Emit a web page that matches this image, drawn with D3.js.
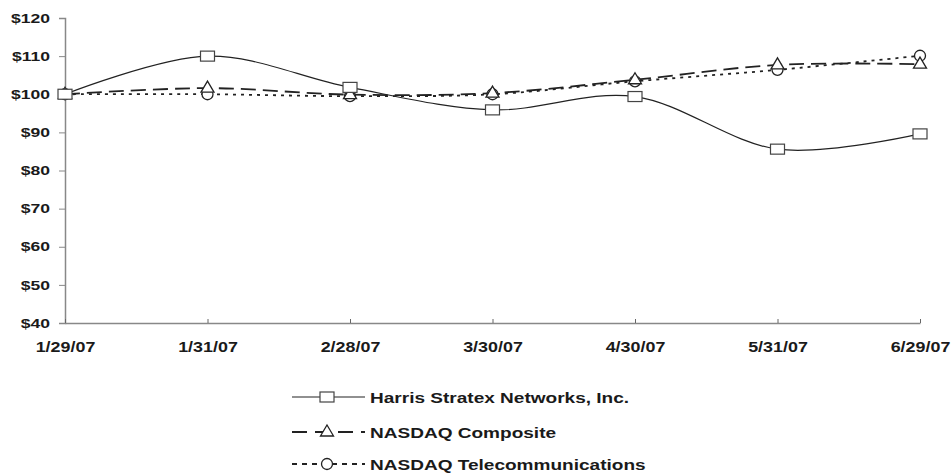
<!DOCTYPE html>
<html><head><meta charset="utf-8">
<script src="https://cdn.jsdelivr.net/npm/d3@7"></script>
<style>body{margin:0;background:#fff}svg{display:block}text{font-family:"Liberation Sans",Arial,sans-serif;font-weight:bold;fill:#1a1a1a}</style>
</head><body><svg id="c" width="951" height="474"></svg>
<script>
const dates = ["1/29/07","1/31/07","2/28/07","3/30/07","4/30/07","5/31/07","6/29/07"];
const harris = [100, 110, 101.8, 95.9, 99.4, 85.6, 89.6];
const composite = [100, 101.6, 99.9, 100.3, 103.8, 107.7, 107.9];
const telecom = [100, 100.0, 99.5, 100.0, 103.4, 106.4, 110.1];
const yTicks = [40, 50, 60, 70, 80, 90, 100, 110, 120];
const seriesNames = ["Harris Stratex Networks, Inc.", "NASDAQ Composite", "NASDAQ Telecommunications"];

const svg = d3.select("#c");
const x = d3.scalePoint().domain(dates).range([65, 920]);
const y = d3.scaleLinear().domain([40, 120]).range([323, 18]);

const ySX = 1.35, xSX = 1.28, lSX = 1.27;

const yAxis = d3.axisLeft(y).tickValues(yTicks).tickFormat(d => "$" + d).tickSize(6).tickPadding(0);
const gy = svg.append("g").attr("transform", "translate(65,0)").call(yAxis);
gy.select(".domain").attr("stroke", "#888").attr("stroke-width", 1.5);
gy.selectAll(".tick line").attr("stroke", "#888");
gy.selectAll("text").style("font-size", "13px").attr("fill", "#1a1a1a")
  .attr("x", null).attr("transform", `translate(-15,0) scale(${ySX},1)`);

const xAxis = d3.axisBottom(x).tickSize(-4).tickPadding(0).tickSizeOuter(0);
const gx = svg.append("g").attr("transform", "translate(0,323)").call(xAxis);
gx.select(".domain").attr("stroke", "#888").attr("stroke-width", 1.5);
gx.selectAll(".tick line").attr("stroke", "#666");
gx.selectAll("text").style("font-size", "14px").attr("fill", "#1a1a1a")
  .attr("y", null).attr("dy", null).attr("transform", `translate(0,29) scale(${xSX},1)`);

const line = d3.line().x((d, i) => x(dates[i])).y(d => y(d)).curve(d3.curveCatmullRom.alpha(0));
const styles = [
  {data: harris, dash: null, marker: "square"},
  {data: composite, dash: "15,7", marker: "triangle"},
  {data: telecom, dash: "3,5", marker: "circle"}
];

function drawMarker(g, type, cx, cy) {
  if (type === "square") {
    g.append("rect").attr("x", cx - 7).attr("y", cy - 5).attr("width", 14).attr("height", 10)
      .attr("fill", "#fff").attr("stroke", "#444").attr("stroke-width", 1.2);
  } else if (type === "triangle") {
    g.append("path").attr("d", `M${cx},${cy - 7}L${cx + 6.5},${cy + 4}L${cx - 6.5},${cy + 4}Z`)
      .attr("fill", "#fff").attr("stroke", "#222").attr("stroke-width", 1.3);
  } else {
    g.append("circle").attr("cx", cx).attr("cy", cy).attr("r", 5.5)
      .attr("fill", "#fff").attr("stroke", "#222").attr("stroke-width", 1.3);
  }
}

styles.forEach(s => {
  svg.append("path").datum(s.data).attr("d", line).attr("fill", "none")
    .attr("stroke", "#222").attr("stroke-width", s.dash ? 1.8 : 1.2)
    .attr("stroke-dasharray", s.dash);
});
[2, 1, 0].forEach(k => {
  const s = styles[k];
  const g = svg.append("g");
  s.data.forEach((v, i) => drawMarker(g, s.marker, x(dates[i]), y(v)));
});

const legY = [397, 432, 464];
const legDash = [null, "15,8", "5,5"];
styles.forEach((s, k) => {
  const g = svg.append("g");
  g.append("line").attr("x1", 292).attr("x2", 365).attr("y1", legY[k]).attr("y2", legY[k])
    .attr("stroke", "#222").attr("stroke-width", s.dash ? 1.8 : 1.2).attr("stroke-dasharray", legDash[k]);
  drawMarker(g, s.marker, 327, legY[k]);
  g.append("text").attr("transform", `translate(370,${legY[k] + 5.5}) scale(${lSX},1)`)
    .style("font-size", "15px").text(seriesNames[k]);
});
</script></body></html>
